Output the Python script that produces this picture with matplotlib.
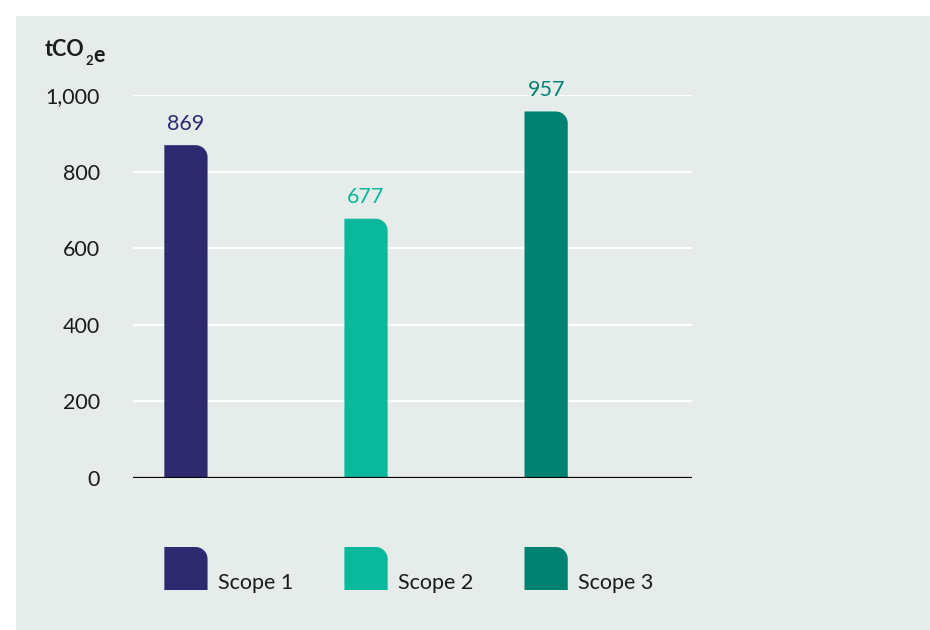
import matplotlib
matplotlib.use("Agg")
import matplotlib.pyplot as plt
from matplotlib.path import Path
from matplotlib.patches import PathPatch, Rectangle

categories = ["Scope 1", "Scope 2", "Scope 3"]
values = [869, 677, 957]
colors = ["#2D2A70", "#0AB89C", "#008272"]
yticks = [0, 200, 400, 600, 800, 1000]
ytick_labels = ["0", "200", "400", "600", "800", "1,000"]
unit_label = ("tCO", "2", "e")

FONT = ["Lato", "DejaVu Sans"]
plt.rcParams["font.family"] = FONT
TXT = "#1b1b1b"
BG = "#E6ECEA"

W, H, DPI = 930, 630, 100
fig = plt.figure(figsize=(W / DPI, H / DPI), dpi=DPI, facecolor="white")

# background panel in pixel space
bgax = fig.add_axes([0, 0, 1, 1], zorder=-5)
bgax.set_xlim(0, W)
bgax.set_ylim(H, 0)
bgax.axis("off")
bgax.add_patch(Rectangle((16, 16), W - 16, H - 16, facecolor=BG, edgecolor="none"))

ax_left, ax_right, ax_top, ax_bot = 133, 692, 95, 478
ax = fig.add_axes([ax_left / W, (H - ax_bot) / H, (ax_right - ax_left) / W, (ax_bot - ax_top) / H])
ax.set_facecolor("none")
ax.set_xlim(-0.294, 2.81)
ax.set_ylim(0, 1000)
for s in ax.spines.values():
    s.set_visible(False)
ax.set_xticks([])
ax.set_yticks(yticks)
ax.set_yticklabels(ytick_labels, fontsize=15.5, color=TXT)
ax.tick_params(axis="y", length=0, pad=24)
for y in yticks[1:]:
    ax.axhline(y, color="white", lw=1.6, zorder=1)
ax.axhline(0, color="black", lw=1.6, zorder=4)

fig.canvas.draw()


def rounded_path(x0, y0, x1, y1, rx, ry):
    k = 0.5523
    verts = [(x0, y0), (x0, y1), (x1 - rx, y1),
             (x1 - rx * (1 - k), y1), (x1, y1 - ry * (1 - k)), (x1, y1 - ry),
             (x1, y0), (x0, y0)]
    codes = [Path.MOVETO, Path.LINETO, Path.LINETO,
             Path.CURVE4, Path.CURVE4, Path.CURVE4,
             Path.LINETO, Path.CLOSEPOLY]
    return Path(verts, codes)


R = 12  # corner radius in pixels
xpos = list(range(len(categories)))
bars = ax.bar(xpos, values, width=0.24, color=colors)
tr = ax.transData
(px0, py0) = tr.transform((0, 0))
(px1, py1) = tr.transform((1, 100))
rx = R / (px1 - px0)
ry = R * 100 / (py1 - py0)
for b, c, v in zip(bars, colors, values):
    b.set_visible(False)
    x0, w = b.get_x(), b.get_width()
    ax.add_patch(PathPatch(rounded_path(x0, 0, x0 + w, v, rx, ry),
                           facecolor=c, edgecolor="none", zorder=3))
    ax.annotate(f"{v:,}", xy=(x0 + w / 2, v), xytext=(0, 11), textcoords="offset points",
                ha="center", va="baseline", fontsize=15.5, color=c, annotation_clip=False)

# unit label
t1 = bgax.text(45, 56, unit_label[0], fontsize=15.5, fontweight="bold", color=TXT,
               ha="left", va="baseline")
t2 = bgax.annotate(unit_label[1], xy=(1, 0), xycoords=t1, xytext=(0.3, -3.5),
                   textcoords="offset points", fontsize=9.5, fontweight="bold", color=TXT,
                   ha="left", va="baseline")
t3 = bgax.annotate(unit_label[2], xy=(1, 0), xycoords=t2, xytext=(0.5, 3.5),
                   textcoords="offset points", fontsize=15.5, fontweight="bold", color=TXT,
                   ha="left", va="baseline")

# legend patches in pixel space, aligned with bars
for b, c, lab in zip(bars, colors, categories):
    lx0 = tr.transform((b.get_x(), 0))[0]
    lx1 = tr.transform((b.get_x() + b.get_width(), 0))[0]
    top, bot = 547, 590
    k = 0.5523
    verts = [(lx0, bot), (lx0, top), (lx1 - R, top),
             (lx1 - R * (1 - k), top), (lx1, top + R * (1 - k)), (lx1, top + R),
             (lx1, bot), (lx0, bot)]
    codes = [Path.MOVETO, Path.LINETO, Path.LINETO,
             Path.CURVE4, Path.CURVE4, Path.CURVE4,
             Path.LINETO, Path.CLOSEPOLY]
    bgax.add_patch(PathPatch(Path(verts, codes), facecolor=c, edgecolor="none"))
    bgax.text(lx1 + 10, 589, lab, fontsize=15.5, color=TXT, ha="left", va="baseline")

fig.savefig("out.png", dpi=DPI, facecolor="white")
